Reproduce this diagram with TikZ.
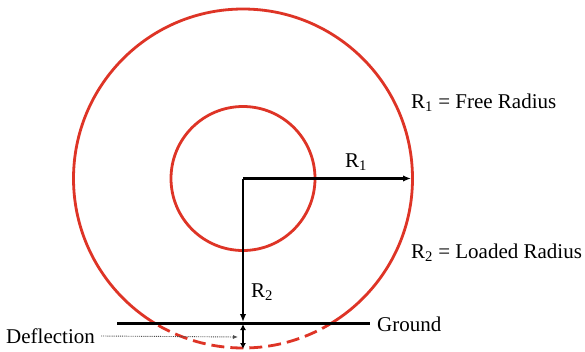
\documentclass[tikz,border=0pt]{standalone}
\usepackage{fontspec}
\setmainfont{Liberation Serif}
\usetikzlibrary{arrows.meta}
\definecolor{tirered}{RGB}{222,52,38}
\tikzset{
  tire/.style={draw=tirered,line width=2.8pt},
  blk/.style={draw=black,line width=2.2pt},
  arr/.style={blk,-{Latex[length=8pt,width=6.5pt]}},
  lbl/.style={font=\fontsize{21}{23}\selectfont,inner sep=0pt}
}
\begin{document}
\begin{tikzpicture}[x=1pt,y=-1pt]
\useasboundingbox[fill=white] (0,0) rectangle (585,351);
\coordinate (c) at (243,178.5);
\begin{scope}
  \clip (0,0) rectangle (585,323);
  \draw[tire] (c) circle (169.5);
\end{scope}
\begin{scope}
  \clip (0,323) rectangle (585,360);
  \draw[tire,dash pattern=on 13pt off 6pt] (c) circle (169.5);
\end{scope}
\draw[tire] (c) circle (72);
% ground
\coordinate (gl) at (117,323.5);
\coordinate (gr) at (370,323.5);
\draw[blk] (gl) -- (gr);
\node[lbl,anchor=west] (ground) at (377,324) {Ground};
% radii
\coordinate (r1end) at (411,178.5);
\coordinate (r2end) at (243,322);
\draw[arr] (c) -- (r1end);
\draw[arr] (c) -- (r2end);
\node[lbl] (r1) at (356,162) {R\textsubscript{1}};
\node[lbl] (r2) at (262,292) {R\textsubscript{2}};
% deflection
\coordinate (dtop) at (243,324);
\coordinate (dbot) at (243,349);
\draw[blk,line width=1.8pt,{Latex[length=6pt,width=6pt]}-{Latex[length=6pt,width=6pt]}] (dtop) -- (dbot);
\node[lbl,anchor=west] (defl) at (6,336) {Deflection};
\coordinate (dp) at (238,337);
\draw[black!70,line width=0.9pt,densely dotted,-{Latex[length=5pt,width=4pt]}] (defl.east) ++(6,0) -- (dp);
% legend
\node[lbl,anchor=west] (l1) at (411,103) {R\textsubscript{1} = Free Radius};
\node[lbl,anchor=west] (l2) at (411,253) {R\textsubscript{2} = Loaded Radius};
\end{tikzpicture}
\end{document}
